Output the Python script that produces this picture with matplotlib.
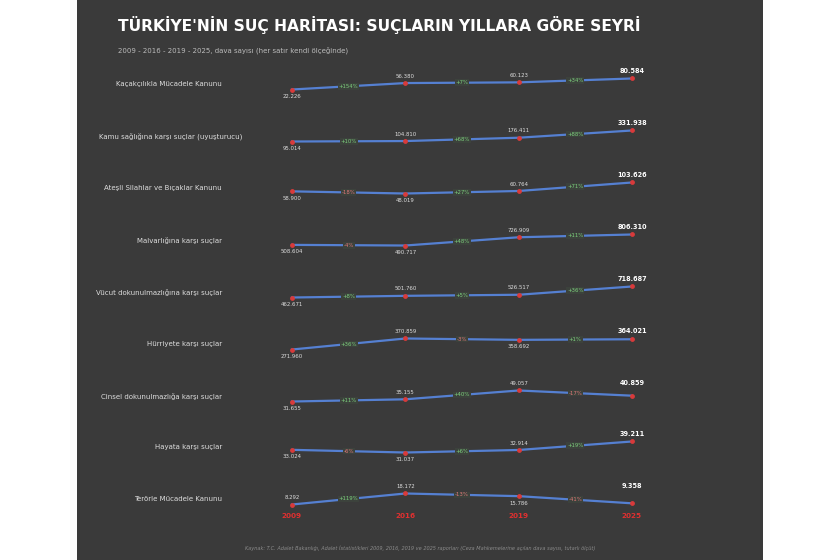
import matplotlib
matplotlib.use("Agg")
import matplotlib.pyplot as plt
from matplotlib.patches import Rectangle
from matplotlib.transforms import blended_transform_factory
import numpy as np

years = ["2009", "2016", "2019", "2025"]

crimes = [
    "Kaçakçılıkla Mücadele Kanunu",
    "Kamu sağlığına karşı suçlar (uyuşturucu)",
    "Ateşli Silahlar ve Bıçaklar Kanunu",
    "Malvarlığına karşı suçlar",
    "Vücut dokunulmazlığına karşı suçlar",
    "Hürriyete karşı suçlar",
    "Cinsel dokunulmazlığa karşı suçlar",
    "Hayata karşı suçlar",
    "Terörle Mücadele Kanunu",
]

kacakcilik = [22226, 56380, 60123, 80584]
uyusturucu = [95014, 104810, 176411, 331938]
silahlar = [58900, 48019, 60764, 103626]
malvarligi = [508604, 490717, 726909, 806310]
vucut = [462671, 501760, 526517, 718687]
hurriyet = [271960, 370859, 358692, 364021]
cinsel = [31655, 35155, 49057, 40859]
hayata = [33024, 31037, 32914, 39211]
teror = [8292, 18172, 15786, 9358]

series = [kacakcilik, uyusturucu, silahlar, malvarligi, vucut,
          hurriyet, cinsel, hayata, teror]

BG = "#3a3a3a"
LINE = "#5580d2"
DOT = "#d93a3a"
UP = "#7ccf7c"
DOWN = "#e07878"
W, H = 840, 560


def fmt(v):
    return f"{v:,}".replace(",", ".")


fig = plt.figure(figsize=(8.4, 5.6), dpi=100)
fig.patch.set_facecolor("white")
fig.patches.append(Rectangle((77 / W, 0), 686 / W, 1, transform=fig.transFigure,
                             facecolor=BG, edgecolor="none", zorder=-10))

fig.text(118 / W, 1 - 25 / H, "TÜRKİYE'NİN SUÇ HARİTASI: SUÇLARIN YILLARA GÖRE SEYRİ",
         color="white", fontsize=11.15, fontweight="bold", ha="left", va="center")
fig.text(118 / W, 1 - 50 / H,
         "2009 - 2016 - 2019 - 2025, dava sayısı (her satır kendi ölçeğinde)",
         color="#bbbbbb", fontsize=5, ha="left", va="center")
fig.text(0.5, 1 - 548 / H,
         "Kaynak: T.C. Adalet Bakanlığı, Adalet İstatistikleri 2009, 2016, 2019 ve 2025 "
         "raporları (Ceza Mahkemelerine açılan dava sayısı, tutarlı ölçüt)",
         color="#8a8a8a", fontsize=3.6, style="italic", ha="center", va="center")

x = np.arange(len(years))
left, right = 275, 649
row_h = 52
centers = [84, 136, 188, 240, 292, 344, 396, 447, 499]

for r, (name, vals) in enumerate(zip(crimes, series)):
    vals = np.array(vals)
    cy = centers[r]
    ax = fig.add_axes([left / W, 1 - (cy + row_h / 2) / H, (right - left) / W, row_h / H])
    ax.set_facecolor("none")
    ax.axis("off")
    lo, hi = vals.min(), vals.max()
    rng = hi - lo
    ax.set_xlim(-0.15, 3.15)
    ax.set_ylim(lo - 1.86 * rng, hi + 1.86 * rng)

    ax.plot(x, vals, color=LINE, lw=1.6, zorder=2)
    ax.scatter(x, vals, s=6, color=DOT, zorder=4)

    # the long label on row 2 sits a little further right in the original
    lx = -0.142 if r != 1 else -0.088
    ax.text(lx, 0.5, name, transform=ax.transAxes, ha="right", va="center",
            color="#dddddd", fontsize=5)

    last = len(vals) - 1
    for i, v in enumerate(vals):
        if i == last:
            ax.annotate(fmt(v), (i, hi), xytext=(0, 3.5), textcoords="offset points",
                        ha="center", va="bottom", color="white", fontsize=4.7,
                        fontweight="bold")
            continue
        below = (i == 0 and r != len(series) - 1) or (i > 0 and v < vals[i - 1])
        dy = -5 if below else 5
        ax.annotate(fmt(v), (i, v), xytext=(0, dy), textcoords="offset points",
                    ha="center", va="center", color="#dddddd", fontsize=3.9)

    for i in range(last):
        pct = (vals[i + 1] - vals[i]) / vals[i] * 100
        txt = f"{pct:+.0f}%"
        col = UP if pct >= 0 else DOWN
        ax.text(i + 0.5, (vals[i] + vals[i + 1]) / 2, txt, ha="center", va="center",
                color=col, fontsize=3.9, zorder=3,
                bbox=dict(boxstyle="square,pad=0.15", facecolor="#3c423c", edgecolor="none"))

    if r == len(series) - 1:
        tr = blended_transform_factory(ax.transData, ax.transAxes)
        for i, y in enumerate(years):
            ax.text(i, (cy + row_h / 2 - 516) / row_h, y, transform=tr, ha="center",
                    va="center", color="#e03030", fontsize=5.2, fontweight="bold")

fig.savefig("out.png", dpi=100, facecolor=fig.get_facecolor())
